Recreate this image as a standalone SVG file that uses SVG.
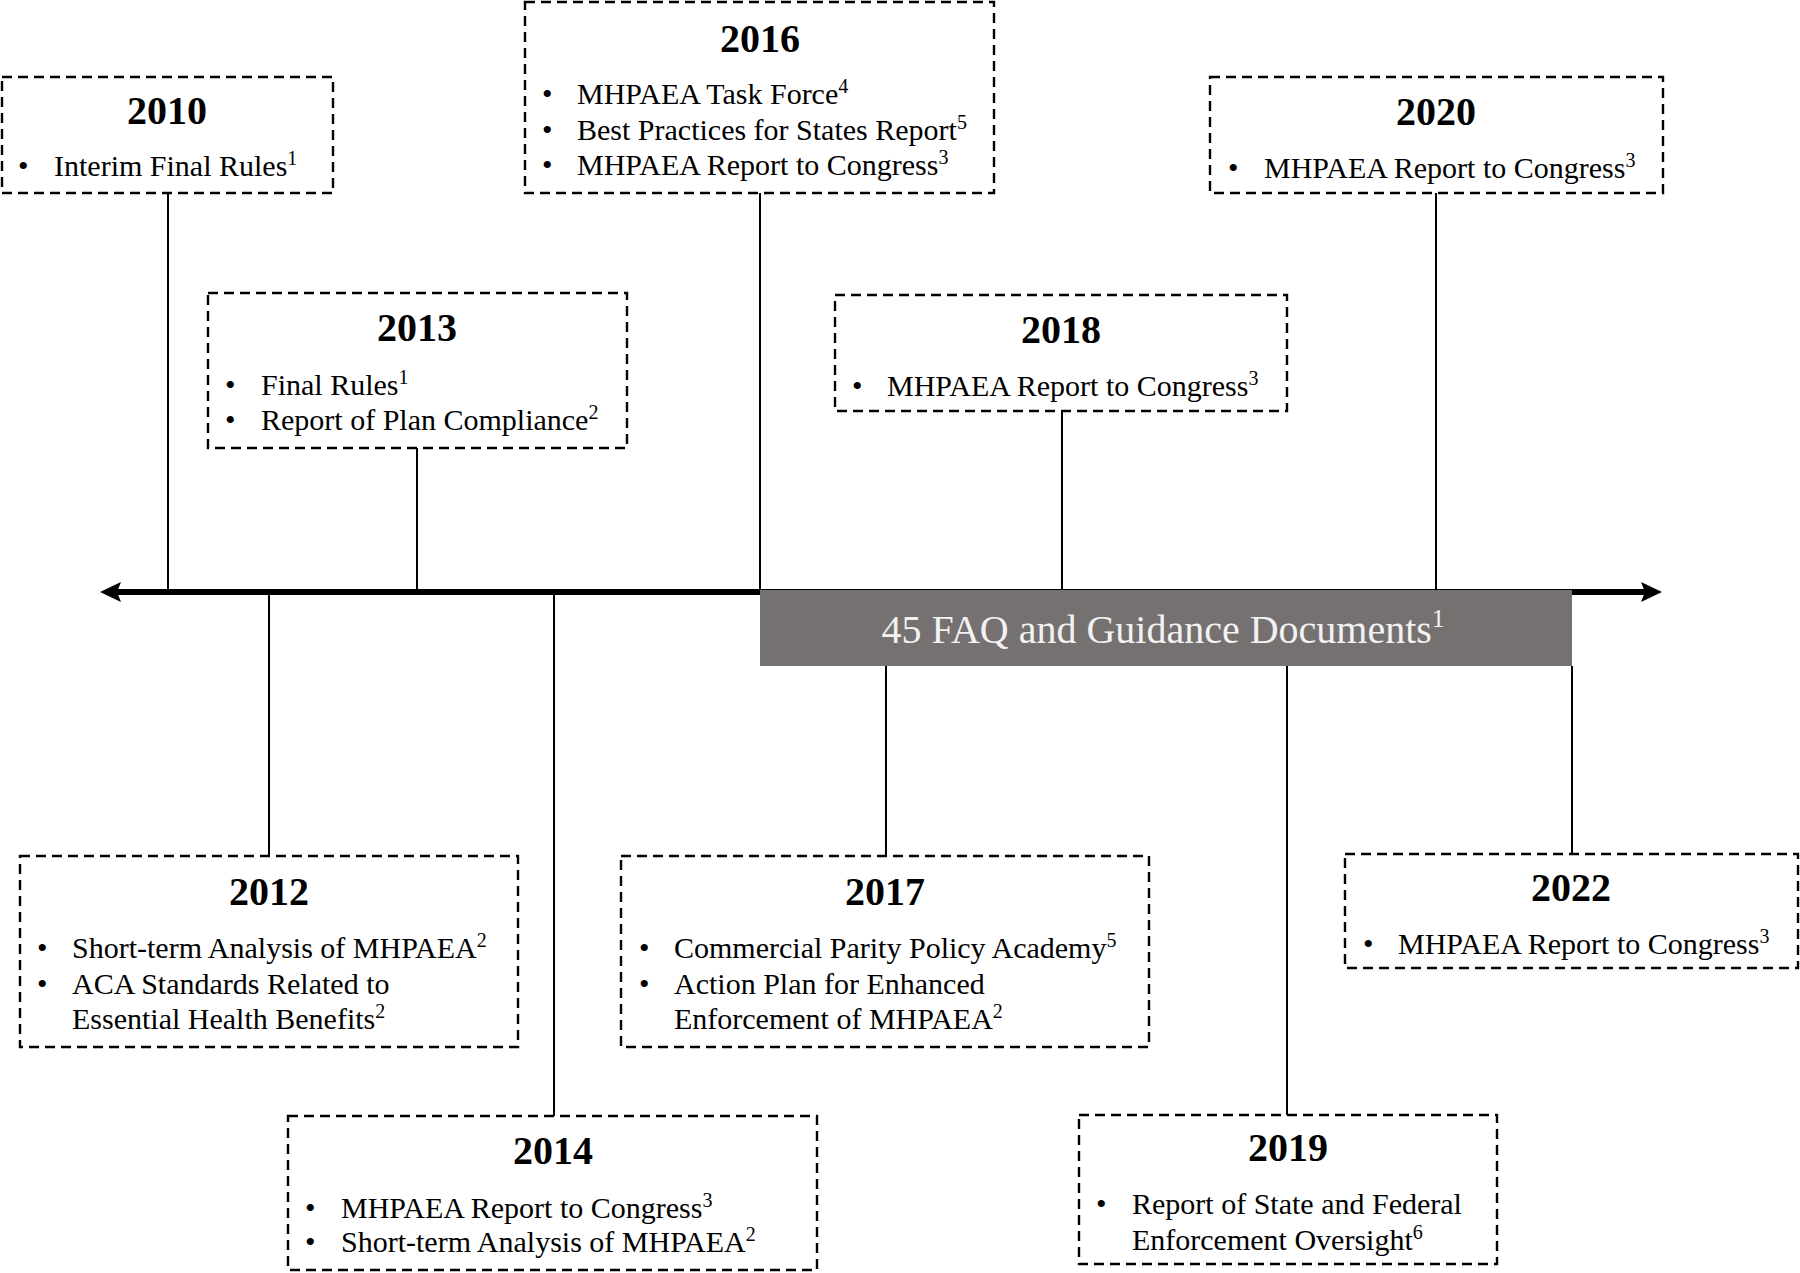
<svg xmlns="http://www.w3.org/2000/svg" width="1800" height="1273" viewBox="0 0 1800 1273">
<style>
.box{fill:#fff;stroke:#000;stroke-width:2.4;stroke-dasharray:10 6}
.yr{font-family:"Liberation Serif","Times New Roman",serif;font-weight:bold;font-size:40px;text-anchor:middle;fill:#000}
.t{font-family:"Liberation Serif","Times New Roman",serif;font-size:30px;fill:#000}
.sup{font-size:20px}
.ln{stroke:#000;stroke-width:2;fill:none}
.gt{font-family:"Liberation Serif","Times New Roman",serif;font-size:40px;fill:#f2f2f2;text-anchor:middle}
</style>
<rect width="1800" height="1273" fill="#fff"/>
<g id="connectors">
<line class="ln" x1="168" y1="193" x2="168" y2="591"/>
<line class="ln" x1="417" y1="448" x2="417" y2="591"/>
<line class="ln" x1="760" y1="193" x2="760" y2="591"/>
<line class="ln" x1="1062" y1="411" x2="1062" y2="591"/>
<line class="ln" x1="1436" y1="193" x2="1436" y2="591"/>
<line class="ln" x1="269" y1="591" x2="269" y2="856"/>
<line class="ln" x1="554" y1="591" x2="554" y2="1116"/>
<line class="ln" x1="886" y1="666" x2="886" y2="856"/>
<line class="ln" x1="1287" y1="666" x2="1287" y2="1115"/>
<line class="ln" x1="1572" y1="666" x2="1572" y2="854"/>
</g>
<g id="axis">
<line x1="115" y1="592" x2="1647" y2="592" stroke="#000" stroke-width="6"/>
<polygon points="100,592 121,582 117,592 121,602" fill="#000"/>
<polygon points="1662,592 1641,582 1645,592 1641,602" fill="#000"/>
</g>
<g id="faq">
<rect x="760" y="590" width="812" height="76" fill="#767171"/>
<text class="gt" x="1163" y="643">45 FAQ and Guidance Documents<tspan font-size="25" dy="-16">1</tspan></text>
</g>
<g id="y2010">
<rect class="box" x="2" y="77" width="331" height="116"/>
<text class="yr" x="167" y="124">2010</text>
<text class="t" x="18" y="176">•</text>
<text class="t" x="54" y="176">Interim Final Rules<tspan class="sup" dy="-11">1</tspan></text>
</g>
<g id="y2013">
<rect class="box" x="208" y="293" width="419" height="155"/>
<text class="yr" x="417" y="341">2013</text>
<text class="t" x="225" y="395">•</text>
<text class="t" x="261" y="395">Final Rules<tspan class="sup" dy="-11">1</tspan></text>
<text class="t" x="225" y="430">•</text>
<text class="t" x="261" y="430">Report of Plan Compliance<tspan class="sup" dy="-11">2</tspan></text>
</g>
<g id="y2016">
<rect class="box" x="525" y="2" width="469" height="191"/>
<text class="yr" x="760" y="52">2016</text>
<text class="t" x="542" y="104">•</text>
<text class="t" x="577" y="104">MHPAEA Task Force<tspan class="sup" dy="-11">4</tspan></text>
<text class="t" x="542" y="140">•</text>
<text class="t" x="577" y="140">Best Practices for States Report<tspan class="sup" dy="-11">5</tspan></text>
<text class="t" x="542" y="175">•</text>
<text class="t" x="577" y="175">MHPAEA Report to Congress<tspan class="sup" dy="-11">3</tspan></text>
</g>
<g id="y2018">
<rect class="box" x="835" y="295" width="452" height="116"/>
<text class="yr" x="1061" y="343">2018</text>
<text class="t" x="852" y="396">•</text>
<text class="t" x="887" y="396">MHPAEA Report to Congress<tspan class="sup" dy="-11">3</tspan></text>
</g>
<g id="y2020">
<rect class="box" x="1210" y="77" width="453" height="116"/>
<text class="yr" x="1436" y="125">2020</text>
<text class="t" x="1228" y="178">•</text>
<text class="t" x="1264" y="178">MHPAEA Report to Congress<tspan class="sup" dy="-11">3</tspan></text>
</g>
<g id="y2012">
<rect class="box" x="20" y="856" width="498" height="191"/>
<text class="yr" x="269" y="905">2012</text>
<text class="t" x="37" y="958">•</text>
<text class="t" x="72" y="958">Short-term Analysis of MHPAEA<tspan class="sup" dy="-11">2</tspan></text>
<text class="t" x="37" y="994">•</text>
<text class="t" x="72" y="994">ACA Standards Related to</text>
<text class="t" x="72" y="1029">Essential Health Benefits<tspan class="sup" dy="-11">2</tspan></text>
</g>
<g id="y2014">
<rect class="box" x="288" y="1116" width="529" height="154"/>
<text class="yr" x="553" y="1164">2014</text>
<text class="t" x="305" y="1218">•</text>
<text class="t" x="341" y="1218">MHPAEA Report to Congress<tspan class="sup" dy="-11">3</tspan></text>
<text class="t" x="305" y="1252">•</text>
<text class="t" x="341" y="1252">Short-term Analysis of MHPAEA<tspan class="sup" dy="-11">2</tspan></text>
</g>
<g id="y2017">
<rect class="box" x="621" y="856" width="528" height="191"/>
<text class="yr" x="885" y="905">2017</text>
<text class="t" x="639" y="958">•</text>
<text class="t" x="674" y="958">Commercial Parity Policy Academy<tspan class="sup" dy="-11">5</tspan></text>
<text class="t" x="639" y="994">•</text>
<text class="t" x="674" y="994">Action Plan for Enhanced</text>
<text class="t" x="674" y="1029">Enforcement of MHPAEA<tspan class="sup" dy="-11">2</tspan></text>
</g>
<g id="y2019">
<rect class="box" x="1079" y="1115" width="418" height="149"/>
<text class="yr" x="1288" y="1161">2019</text>
<text class="t" x="1096" y="1214">•</text>
<text class="t" x="1132" y="1214">Report of State and Federal</text>
<text class="t" x="1132" y="1250">Enforcement Oversight<tspan class="sup" dy="-11">6</tspan></text>
</g>
<g id="y2022">
<rect class="box" x="1345" y="854" width="453" height="114"/>
<text class="yr" x="1571" y="901">2022</text>
<text class="t" x="1363" y="954">•</text>
<text class="t" x="1398" y="954">MHPAEA Report to Congress<tspan class="sup" dy="-11">3</tspan></text>
</g>
</svg>
